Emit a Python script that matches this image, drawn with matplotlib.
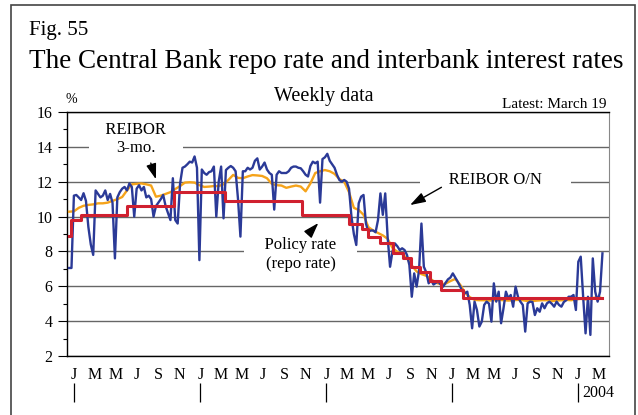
import matplotlib.pyplot as plt
import matplotlib.dates as mdates
import pandas as pd
from matplotlib.patches import Rectangle

plt.rcParams["font.family"] = "Liberation Serif"

# weekly observations, REIBOR overnight
weeks = pd.date_range("1999-12-17", periods=222, freq="7D")
reibor_on = [
    7.05, 7.05, 11.2, 11.24, 11.1, 10.95, 11.34, 10.9, 9.4, 8.4,
    7.8, 11.5, 11.3, 11.1, 11.2, 11.5, 10.95, 11.3, 10.8, 7.6,
    11.1, 11.4, 11.6, 11.7, 11.5, 11.9, 11.7, 10.0, 11.6, 11.8,
    11.5, 11.7, 11.1, 11.2, 11.0, 10.0, 10.6, 10.8, 11.0, 11.24,
    10.6, 10.2, 9.8, 12.2, 9.8, 9.6, 11.9, 12.8, 12.87, 13.0,
    13.15, 13.1, 13.45, 12.8, 7.5, 12.7, 12.5, 12.4, 12.55, 12.6,
    12.87, 10.0, 12.0, 12.87, 9.9, 12.67, 12.8, 12.9, 12.8, 12.6,
    11.0, 8.85, 12.6, 12.6, 12.8, 12.7, 12.8, 13.2, 13.34, 12.7,
    12.87, 13.1, 12.7, 12.5, 12.4, 10.4, 12.4, 12.6, 12.5, 12.5,
    12.5, 12.6, 12.8, 12.87, 12.87, 12.8, 12.77, 12.6, 12.4, 12.3,
    12.9, 13.15, 13.06, 13.15, 10.8, 13.3, 13.4, 13.6, 13.2, 13.0,
    12.8, 12.4, 12.1, 12.0, 12.1, 12.0, 11.6, 10.0, 9.0, 8.37,
    10.76, 11.14, 11.24, 9.6, 9.13, 9.2, 9.2, 9.1, 9.8, 11.33,
    10.1, 11.33, 8.8, 7.12, 8.0, 8.46, 8.3, 8.08, 8.18, 8.08,
    7.8, 7.22, 5.4, 6.74, 5.98, 6.9, 9.6, 7.12, 6.8, 6.17,
    6.36, 6.1, 6.2, 6.26, 6.1, 5.98, 6.2, 6.4, 6.5, 6.74,
    6.5, 6.27, 6.0, 5.7, 5.6, 5.69, 4.93, 3.59, 5.12, 4.64,
    3.69, 3.97, 4.93, 5.12, 5.0, 3.97, 6.17, 5.12, 5.69, 3.88,
    4.74, 5.69, 5.31, 5.5, 4.83, 5.98, 5.4, 5.12, 4.93, 3.4,
    5.02, 5.12, 5.1, 4.35, 4.74, 4.54, 5.02, 4.74, 5.02, 5.12,
    5.0, 4.83, 5.12, 4.93, 4.83, 5.1, 5.2, 5.4, 5.4, 5.5,
    4.64, 7.41, 7.7, 5.4, 3.3, 5.4, 3.21, 7.6, 5.69, 5.12,
    5.69, 7.89,
]

# REIBOR 3-month, every second week
reibor_3m = [
    10.28, 10.3, 10.5, 10.62, 10.67, 10.7, 10.76, 10.76, 10.8, 10.9,
    11.0, 11.12, 11.5, 11.85, 11.88, 11.9, 11.85, 11.78, 11.14, 11.2,
    11.3, 11.4, 11.58, 11.75, 11.95, 11.97, 11.95, 11.8, 11.7, 11.72,
    11.75, 11.75, 11.85, 12.1, 12.39, 12.22, 12.2, 12.3, 12.38, 12.36,
    12.33, 12.2, 11.88, 11.8, 11.78, 11.65, 11.72, 11.78, 11.72, 11.45,
    11.9, 12.5, 12.6, 12.67, 12.6, 12.45, 12.15, 12.0, 11.4, 10.5,
    10.38, 10.1, 9.4, 9.2, 9.06, 8.92, 8.72, 8.2, 7.98, 7.85,
    7.6, 7.2, 6.85, 6.7, 6.6, 6.4, 6.2, 6.12, 6.15, 6.3,
    6.42, 6.1, 5.65, 5.38, 5.22, 5.2, 5.2, 5.18, 5.2, 5.22,
    5.2, 5.18, 5.2, 5.22, 5.2, 5.15, 5.15, 5.18, 5.2, 5.2,
    5.15, 5.18, 5.2, 5.22, 5.2, 5.25, 5.28, 5.25, 5.3, 5.35,
    5.35,
]

# policy (repo) rate changes
policy_dates = pd.to_datetime([
    "1999-12-17", "1999-12-24", "2000-01-21", "2000-06-01", "2000-10-16",
    "2001-03-12", "2001-10-23", "2002-03-09", "2002-04-16", "2002-05-03",
    "2002-06-05", "2002-07-13", "2002-08-11", "2002-09-05", "2002-09-29",
    "2002-10-28", "2002-12-01", "2003-02-02",
])
policy_rate = [8.9, 9.8, 10.1, 10.6, 11.4, 10.9, 10.1, 9.6, 9.3, 8.8,
               8.5, 7.9, 7.6, 7.1, 6.8, 6.3, 5.8, 5.3]

month_ticks = pd.date_range("2000-01-01", "2004-03-01", freq="2MS")
month_labels = [d.strftime("%b")[0] for d in month_ticks]
year_ticks = pd.date_range("2000-01-01", "2004-01-01", freq="YS")

W, H = 638, 415
fig = plt.figure(figsize=(W / 100, H / 100), dpi=100)
ax = fig.add_axes([67 / W, 1 - 356 / H, 542 / W, 244 / H])

ax.plot(weeks[::2], reibor_3m, color="#f5a31a", lw=1.7, zorder=3)
ax.plot(weeks, reibor_on, color="#2b3a97", lw=1.7, zorder=4)
ax.plot(list(policy_dates) + [weeks[-1]], policy_rate + [policy_rate[-1]],
        drawstyle="steps-post", color="#d0202f", lw=2.2, zorder=5)

ax.set_ylim(2, 16)
ax.set_xlim(pd.Timestamp("1999-12-11"), pd.Timestamp("2004-03-31"))
ax.set_yticks(range(2, 17, 2))
ax.set_yticks(range(3, 16, 2), minor=True)
ax.set_xticks(month_ticks)
ax.set_xticklabels(month_labels)
ax.tick_params(axis="x", length=0, pad=8, labelsize=11.5)
ax.tick_params(axis="y", which="major", length=6.5, width=0.8, pad=4, labelsize=11.5)
ax.tick_params(axis="y", which="minor", length=3, width=0.8)
ax.set_axisbelow(True)
ax.yaxis.grid(True, color="#666666", lw=1)
for side in ["left", "top", "bottom"]:
    ax.spines[side].set_linewidth(1)
ax.spines["right"].set_color("#888888")

# year separators below the month letters
sec = ax.secondary_xaxis(-0.11)
sec.set_xticks(mdates.date2num(year_ticks))
sec.tick_params(axis="x", direction="out", length=13.5, width=0.9, labelbottom=False)
sec.spines["bottom"].set_visible(False)
ax.annotate("2004", xy=(year_ticks[-1], -0.152), xycoords=("data", "axes fraction"),
            xytext=(3, 0), textcoords="offset points", ha="left", va="center",
            fontsize=11.5, annotation_clip=False)

box = dict(boxstyle="square,pad=0.25", fc="white", ec="none")
ax.text(pd.Timestamp("2000-06-28"), 14.45, "   REIBOR   \n3-mo.", ha="center",
        va="center", fontsize=12, bbox=box, zorder=2, clip_on=True)
ax.text(pd.Timestamp("2003-05-06"), 12.1, "      REIBOR O/N      ", ha="center",
        va="center", fontsize=12, bbox=box, zorder=2, clip_on=True)
ax.text(pd.Timestamp("2001-10-19"), 7.82, "    Policy rate    \n(repo rate)", ha="center",
        va="center", fontsize=12, bbox=box, zorder=2, clip_on=True)

arrow = dict(arrowstyle="-|>,head_length=0.55,head_width=0.18", color="black",
             lw=1, mutation_scale=17, shrinkA=0, shrinkB=0)
ax.annotate("", xy=(pd.Timestamp("2000-08-25"), 12.14),
            xytext=(pd.Timestamp("2000-08-10"), 13.07), arrowprops=arrow, zorder=6)
ax.annotate("", xy=(pd.Timestamp("2002-09-01"), 10.66),
            xytext=(pd.Timestamp("2002-12-01"), 11.68), arrowprops=arrow, zorder=6)
ax.annotate("", xy=(pd.Timestamp("2001-12-09"), 9.63),
            xytext=(pd.Timestamp("2001-11-10"), 9.0), arrowprops=arrow, zorder=6)

fig.text(29 / W, 1 - 35 / H, "Fig. 55", fontsize=15, va="baseline")
fig.text(29 / W, 1 - 68 / H, "The Central Bank repo rate and interbank interest rates",
         fontsize=19.5, va="baseline")
fig.text(324 / W, 1 - 101 / H, "Weekly data", fontsize=14.5, ha="center", va="baseline")
fig.text(607 / W, 1 - 108 / H, "Latest: March 19", fontsize=11, ha="right", va="baseline")
fig.text(71.5 / W, 1 - 103 / H, "%", fontsize=10, ha="center", va="baseline")

fig.add_artist(Rectangle((11 / W, -0.1), 624 / W, 1.1 - 5 / H, transform=fig.transFigure,
                         fill=False, ec="#444444", lw=1.2, clip_on=False))

fig.savefig("out.png", dpi=100)
